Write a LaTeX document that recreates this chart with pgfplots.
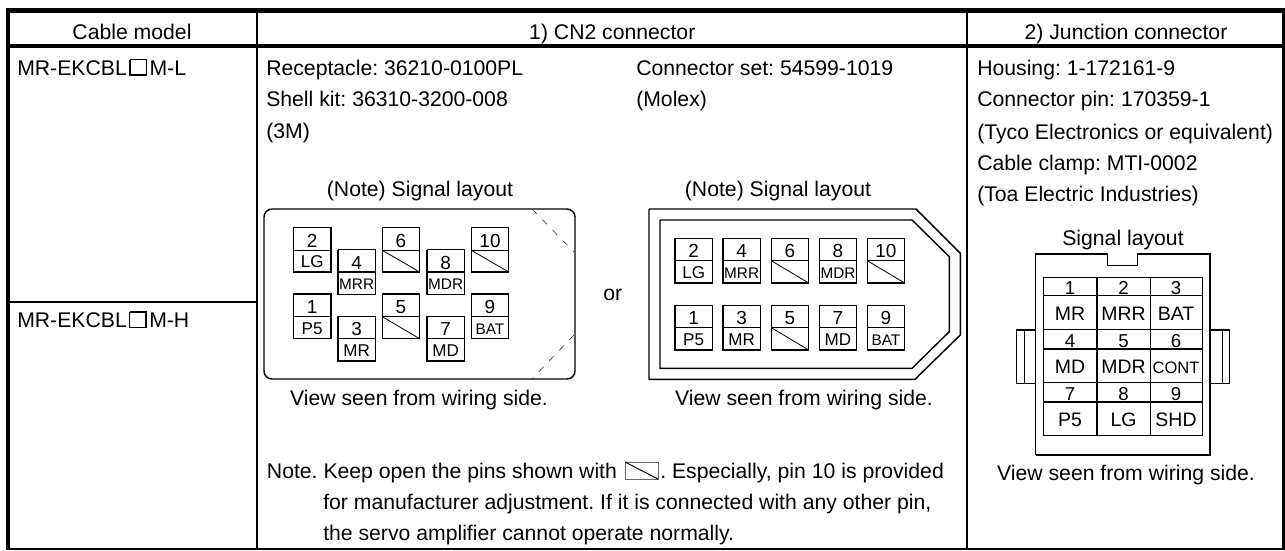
\documentclass[border=0pt]{standalone}
\usepackage{pgfplots}
\pgfplotsset{compat=1.18}
\usepackage{fontspec}
\setmainfont{Liberation Sans}
\AtBeginDocument{\frenchspacing}
\newcommand\fA{\fontsize{15.9pt}{18pt}\selectfont}
\newcommand\fB{\fontsize{14.2pt}{16pt}\selectfont}
\newcommand\fC{\fontsize{12.8pt}{14pt}\selectfont}
\newcommand\fD{\fontsize{11.5pt}{13pt}\selectfont}
\newcommand\fE{\fontsize{14pt}{16pt}\selectfont}
\newcommand\fJ{\fontsize{14.6pt}{16pt}\selectfont}
\newcommand\fK{\fontsize{12.4pt}{14pt}\selectfont}
\newcommand\txt[4][\fA]{\node[anchor=base west,inner sep=0pt,font=#1] at (axis cs:#2,#3) {#4};}
\newcommand\ctr[4][\fA]{\node[anchor=base,inner sep=0pt,font=#1] at (axis cs:#2,#3) {#4};}
\newcommand\pinL[8]{%
  \addplot[thin line] coordinates {(#1,#3)(#2,#3)(#2,#5)(#1,#5)(#1,#3)};
  \addplot[thin line] coordinates {(#1,#4)(#2,#4)};
  \node[anchor=base,inner sep=0pt,font=\fB] at (axis cs:{(#1+#2)/2},#4-3) {#6};
  \node[anchor=base,inner sep=0pt,font=#7] at (axis cs:{(#1+#2)/2},#5-4.5) {#8};
}
\newcommand\pinX[6]{%
  \addplot[thin line] coordinates {(#1,#3)(#2,#3)(#2,#5)(#1,#5)(#1,#3)};
  \addplot[thin line] coordinates {(#1,#4)(#2,#4)};
  \addplot[black,line width=0.6pt] coordinates {(#1,#4)(#2,#5)};
  \node[anchor=base,inner sep=0pt,font=\fB] at (axis cs:{(#1+#2)/2},#4-3) {#6};
}
\pgfplotsset{thin line/.style={black,line width=0.95pt}}
\begin{document}
\begin{tikzpicture}
\path[use as bounding box] (0,0) rectangle (963.75pt,412.5pt);
\begin{axis}[scale only axis,width=963.75pt,height=412.5pt,
  xmin=0,xmax=1285,ymin=0,ymax=550,y dir=reverse,hide axis,clip=true]
% table frame
\addplot[black,line width=3.3pt] coordinates {(5.7,10.5)(1285,10.5)};
\addplot[black,line width=3.3pt] coordinates {(5.7,46.2)(1285,46.2)};
\addplot[black,line width=3.3pt] coordinates {(7.9,8.8)(7.9,550)};
\addplot[black,line width=2.4pt] coordinates {(1283.5,8.8)(1283.5,550)};
\addplot[black,line width=1.2pt] coordinates {(5.7,549.2)(1285,549.2)};
\addplot[black,line width=1.5pt] coordinates {(256.8,10)(256.8,550)};
\addplot[black,line width=1.7pt] coordinates {(967.2,10)(967.2,550)};
\addplot[black,line width=1.1pt] coordinates {(8,302)(256.8,302)};
% headers
\ctr{132}{39}{Cable model}
\ctr{612.3}{39}{1) CN2 connector}
\ctr{1126}{39}{2) Junction connector}
% cable models
\txt{17}{75}{MR-EKCBL}
\addplot[thin line] coordinates {(130,59.5)(146.5,59.5)(146.5,75)(130,75)(130,59.5)};
\txt{149.3}{75}{M-L}
\txt{17}{327.5}{MR-EKCBL}
\addplot[thin line] coordinates {(129.5,312)(146,312)(146,327.5)(129.5,327.5)(129.5,312)};
\txt{149}{327.5}{M-H}
% CN2 text
\txt{266}{75}{Receptacle: 36210-0100PL}
\txt{266}{106.5}{Shell kit: 36310-3200-008}
\txt{266}{138}{(3M)}
\txt{636}{75}{Connector set: 54599-1019}
\txt{636}{106.5}{(Molex)}
\ctr{420}{196}{(Note) Signal layout}
\ctr{778}{196}{(Note) Signal layout}
\txt{603}{300}{or}
\ctr{419}{405}{View seen from wiring side.}
\ctr{804}{405}{View seen from wiring side.}
% note
\txt{266.7}{478.5}{Note. Keep open the pins shown with}
\addplot[black!60,line width=0.7pt] coordinates {(625,462)(658,462)(658,479)(625,479)(625,462)};
\addplot[black,line width=0.7pt] coordinates {(625,462)(658,479)};
\txt{660}{478.5}{. Especially, pin 10 is provided}
\txt{323}{509}{for manufacturer adjustment. If it is connected with any other pin,}
\txt{323}{540}{the servo amplifier cannot operate normally.}
% junction text
\txt{977}{75}{Housing: 1-172161-9}
\txt{977}{106.5}{Connector pin: 170359-1}
\txt{977}{139}{(Tyco Electronics or equivalent)}
\txt{977}{170.5}{Cable clamp: MTI-0002}
\txt{977}{201.5}{(Toa Electric Industries)}
\ctr{1123}{245}{Signal layout}
\ctr{1126}{480}{View seen from wiring side.}
% left connector
\addplot[black,line width=1.1pt,rounded corners=6pt] coordinates {(532,209)(575,209)(575,379)(264,379)(264,209)(532,209)};
\addplot[black!80,line width=0.45pt,dash pattern=on 5pt off 6pt] coordinates {(532,209)(574,252)};
\addplot[black!80,line width=0.45pt,dash pattern=on 5pt off 6pt] coordinates {(574,335)(532,379)};
\pinL{293.3}{331}{227.3}{250.3}{272}{2}{\fC}{LG}
\pinL{338}{375.3}{249.7}{272}{294.3}{4}{\fD}{MRR}
\pinX{382.3}{419.7}{227.3}{250.3}{272}{6}
\pinL{427}{464.3}{249.7}{272}{294.3}{8}{\fD}{MDR}
\pinX{471.3}{508.7}{227.3}{250.3}{272}{10}
\pinL{293.3}{331}{294}{316.7}{338.7}{1}{\fC}{P5}
\pinL{338}{375.3}{316.3}{338.7}{361}{3}{\fC}{MR}
\pinX{382.3}{419.7}{294}{316.7}{338.7}{5}
\pinL{427}{464.3}{316.3}{338.7}{361}{7}{\fC}{MD}
\pinL{471.3}{508.7}{294}{316.7}{338.7}{9}{\fD}{BAT}
% right connector
\addplot[black,line width=1.1pt] coordinates {(649,209)(916,209)(960.3,253.3)(960.3,335)(915,379.3)(649,379.3)(649,209)};
\addplot[black,line width=1.1pt] coordinates {(660,220)(912,220)(949.3,256.7)(949.3,331.7)(912,368.3)(660,368.3)(660,220)};
\pinL{675}{712.3}{238.3}{260.7}{283}{2}{\fC}{LG}
\pinL{723}{760.3}{238.3}{260.7}{283}{4}{\fD}{MRR}
\pinX{771.3}{808.7}{238.3}{260.7}{283}{6}
\pinL{819.3}{856.7}{238.3}{260.7}{283}{8}{\fD}{MDR}
\pinX{867.3}{904.7}{238.3}{260.7}{283}{10}
\pinL{675}{712.3}{305.3}{327.7}{350}{1}{\fC}{P5}
\pinL{723}{760.3}{305.3}{327.7}{350}{3}{\fC}{MR}
\pinX{771.3}{808.7}{305.3}{327.7}{350}{5}
\pinL{819.3}{856.7}{305.3}{327.7}{350}{7}{\fC}{MD}
\pinL{867.3}{904.7}{305.3}{327.7}{350}{9}{\fD}{BAT}
% junction connector
\addplot[black,line width=1.1pt] coordinates {(1035.7,455)(1035.7,254)(1107.7,254)(1107.7,265.3)(1137.7,265.3)(1137.7,254)(1210,254)(1210,455)(1035.7,455)};
\addplot[black,line width=1.1pt] coordinates {(1035.7,330)(1016.7,330)(1016.7,383.3)(1035.7,383.3)};
\addplot[black,line width=1.1pt] coordinates {(1024.3,330)(1024.3,383.3)};
\addplot[black,line width=1.1pt] coordinates {(1210,330)(1229.3,330)(1229.3,383.3)(1210,383.3)};
\addplot[black,line width=1.1pt] coordinates {(1222.3,330)(1222.3,383.3)};
\addplot[thin line] coordinates {(1043.5,277.3)(1202.3,277.3)(1202.3,435.7)(1043.5,435.7)(1043.5,277.3)};
\addplot[thin line] coordinates {(1043.5,295.7)(1202.3,295.7)};
\addplot[thin line] coordinates {(1043.5,329.3)(1202.3,329.3)};
\addplot[thin line] coordinates {(1043.5,349)(1202.3,349)};
\addplot[thin line] coordinates {(1043.5,382.7)(1202.3,382.7)};
\addplot[thin line] coordinates {(1043.5,402)(1202.3,402)};
\addplot[thin line] coordinates {(1097,277.3)(1097,435.7)};
\addplot[thin line] coordinates {(1150.2,277.3)(1150.2,435.7)};
\ctr[\fE]{1070}{294.5}{1}\ctr[\fE]{1123.5}{294.5}{2}\ctr[\fE]{1176}{294.5}{3}
\ctr[\fE]{1070}{347.5}{4}\ctr[\fE]{1123.5}{347.5}{5}\ctr[\fE]{1176}{347.5}{6}
\ctr[\fE]{1070}{400.5}{7}\ctr[\fE]{1123.5}{400.5}{8}\ctr[\fE]{1176}{400.5}{9}
\ctr[\fJ]{1070}{320}{MR}\ctr[\fJ]{1123.5}{320}{MRR}\ctr[\fJ]{1176}{320}{BAT}
\ctr[\fJ]{1070}{373}{MD}\ctr[\fJ]{1123.5}{373}{MDR}\ctr[\fK]{1176}{373}{CONT}
\ctr[\fJ]{1070}{426.5}{P5}\ctr[\fJ]{1123.5}{426.5}{LG}\ctr[\fJ]{1176}{426.5}{SHD}
\end{axis}
\end{tikzpicture}
\end{document}
